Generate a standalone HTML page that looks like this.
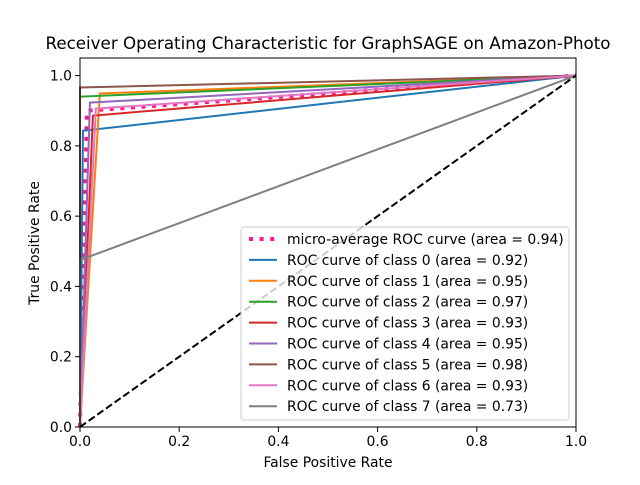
<!DOCTYPE html>
<html><head><meta charset="utf-8"><style>body{margin:0;background:#fff}svg{font-family:"DejaVu Sans","Liberation Sans",sans-serif}</style></head>
<body>
<svg id="c" width="640" height="480" xmlns="http://www.w3.org/2000/svg"></svg>
<script>
const classNames=["micro-average ROC curve","ROC curve of class 0","ROC curve of class 1","ROC curve of class 2","ROC curve of class 3","ROC curve of class 4","ROC curve of class 5","ROC curve of class 6","ROC curve of class 7"];
const areas=["0.94","0.92","0.95","0.97","0.93","0.95","0.98","0.93","0.73"];
const fprs=[[0,0.014,1],[0,0.006,1],[0,0.04,1],[0,0,1],[0,0.026,1],[0,0.02,1],[0,0,1],[0,0.032,1],[0,0,1]];
const tprs=[[0,0.90,1],[0,0.843,1],[0,0.949,1],[0,0.94,1],[0,0.886,1],[0,0.923,1],[0,0.966,1],[0,0.906,1],[0,0.475,1]];
const colors=["deeppink","#1f77b4","#ff7f0e","#2ca02c","#d62728","#9467bd","#8c564b","#e377c2","#7f7f7f"];
const xTicks=["0.0","0.2","0.4","0.6","0.8","1.0"];
const yTicks=["0.0","0.2","0.4","0.6","0.8","1.0"];
const X0=80,X1=576,Y0=427,YT=58;
const sx=v=>X0+v*(X1-X0);
const sy=v=>Y0-v/1.05*(Y0-YT);
const svg=document.getElementById('c');
const NS="http://www.w3.org/2000/svg";
function mk(t,a,p){const e=document.createElementNS(NS,t);for(const k in a)e.setAttribute(k,a[k]);(p||svg).appendChild(e);return e;}
let t=mk('text',{x:328,y:49,'text-anchor':'middle','font-size':16.7,fill:'#000'});t.textContent="Receiver Operating Characteristic for GraphSAGE on Amazon-Photo";


const g=mk('g',{});


for(let i=0;i<fprs.length;i++){
 const pts=fprs[i].map((f,j)=>sx(f)+','+sy(tprs[i][j])).join(' ');
 const a={points:pts,fill:'none',stroke:colors[i],'stroke-width':i==0?4:2};
 if(i==0)a['stroke-dasharray']='4,6.6';
 const p=mk('polyline',a,g);
 
 
}
const d=mk('line',{x1:sx(0),y1:sy(0),x2:sx(1),y2:sy(1),stroke:'#000','stroke-width':2,'stroke-dasharray':'7.4,3.2'},g);


const fr=mk('rect',{x:X0,y:YT,width:X1-X0,height:Y0-YT,fill:'none',stroke:'#000','stroke-width':1});


xTicks.forEach(s=>{const v=+s;mk('line',{x1:sx(v),x2:sx(v),y1:Y0,y2:Y0+5,stroke:'#000'});const e=mk('text',{x:sx(v),y:Y0+19,'text-anchor':'middle','font-size':13.9});e.textContent=s;

});
yTicks.forEach(s=>{const v=+s;mk('line',{x1:X0-5,x2:X0,y1:sy(v),y2:sy(v),stroke:'#000'});const e=mk('text',{x:X0-8,y:sy(v)+5,'text-anchor':'end','font-size':13.9});e.textContent=s;

});
t=mk('text',{x:328,y:467,'text-anchor':'middle','font-size':13.9});t.textContent="False Positive Rate";


t=mk('text',{x:39,y:243,'text-anchor':'middle','font-size':13.9,transform:'rotate(-90 39 243)'});t.textContent="True Positive Rate";


const lg=mk('g',{});


mk('rect',{x:241,y:227,width:328,height:193,rx:3,fill:'#fff','fill-opacity':0.8,stroke:'#ccc'},lg);
classNames.forEach((n,i)=>{const y=239+i*20.9;
 const a={x1:249,x2:277,y1:y,y2:y,stroke:colors[i],'stroke-width':i==0?4:2};if(i==0)a['stroke-dasharray']='4,6.6';
 mk('line',a,lg);
 const e=mk('text',{x:287,y:y+5,'font-size':13.9},lg);e.textContent=n+" (area = "+areas[i]+")";
 
 
});
</script>
</body></html>
